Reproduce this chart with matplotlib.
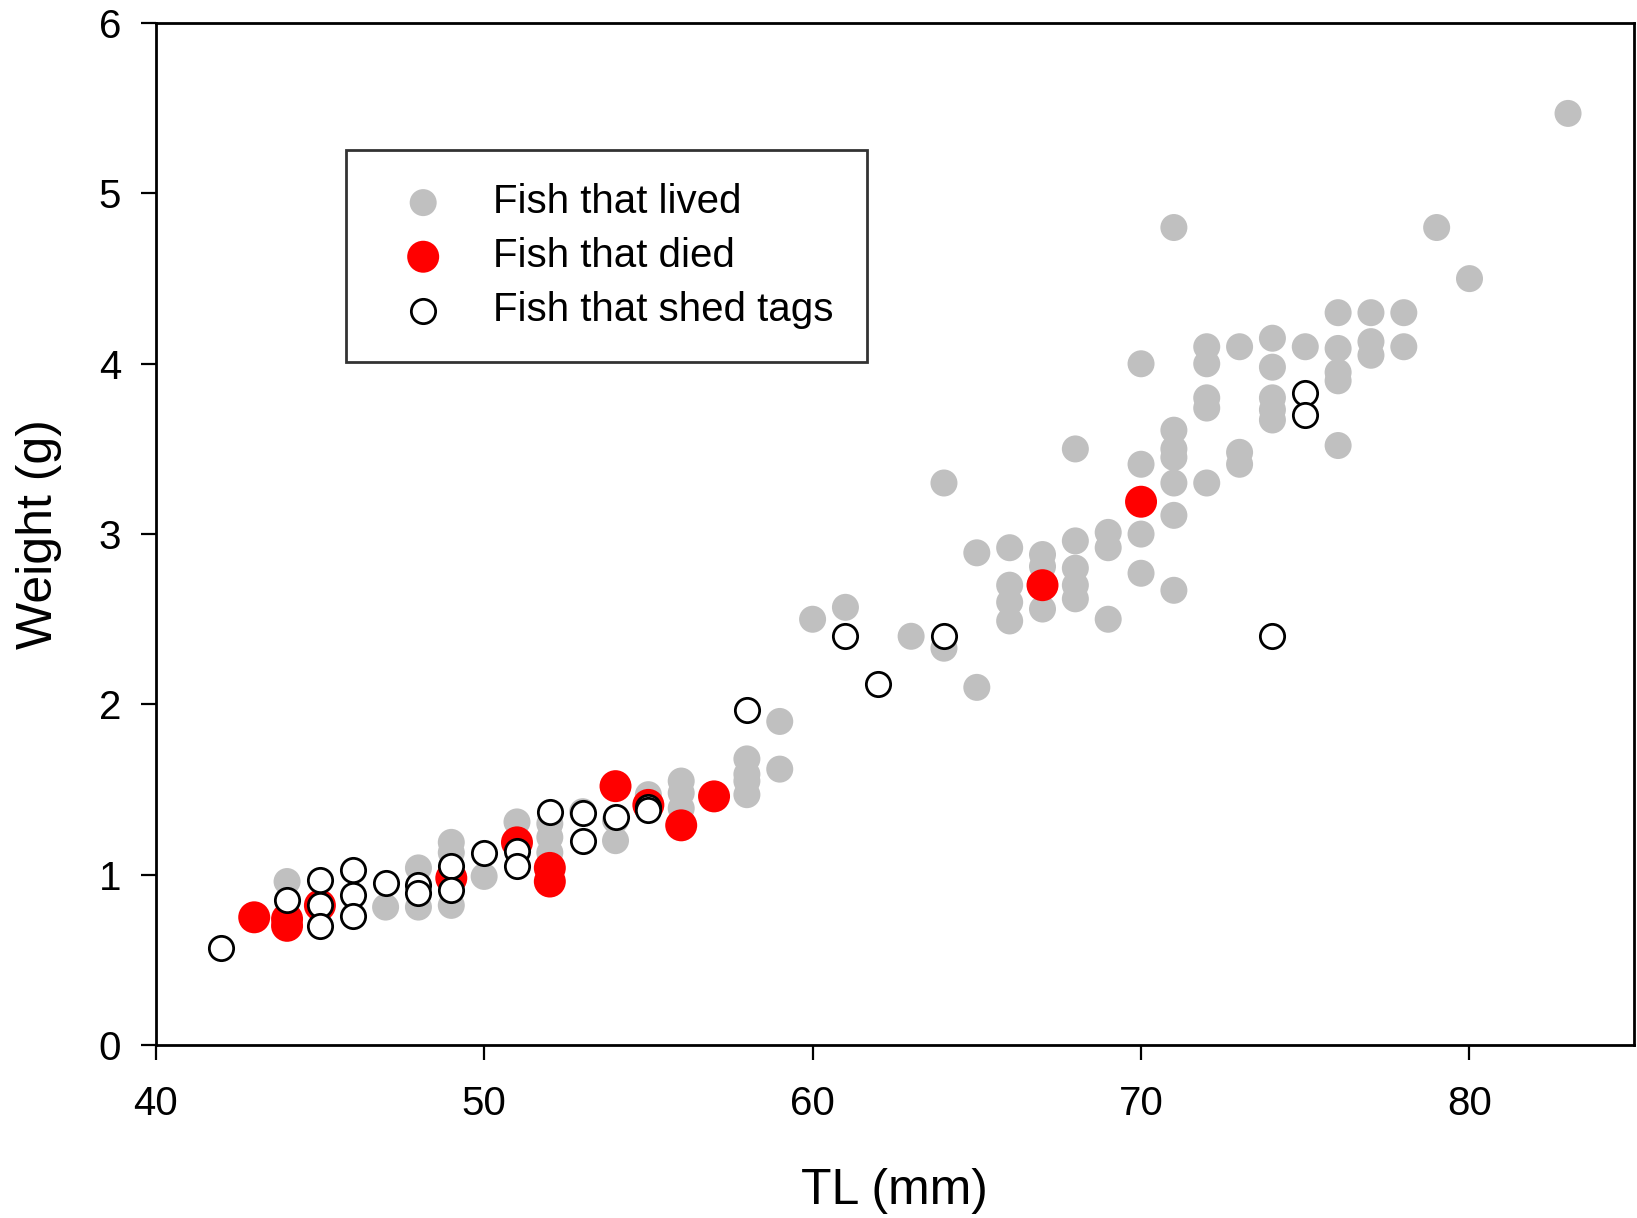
import matplotlib
matplotlib.use("Agg")
import matplotlib.pyplot as plt

plt.rcParams['font.family'] = ['Liberation Sans', 'DejaVu Sans']

# Fish that lived
lived_tl = [44, 47, 48, 48, 49, 49, 49, 50, 51, 52, 52, 52, 53, 54, 54, 55,
            56, 56, 56, 58, 58, 58, 58, 59, 59, 60, 61, 63, 64, 64, 65, 65,
            66, 66, 66, 66, 67, 67, 67, 68, 68, 68, 68, 68, 69, 69, 69,
            70, 70, 70, 70, 71, 71, 71, 71, 71, 71, 71, 72, 72, 72, 72, 72,
            73, 73, 73, 74, 74, 74, 74, 74, 75, 76, 76, 76, 76, 76,
            77, 77, 77, 78, 78, 79, 80, 83]
lived_wt = [0.96, 0.81, 1.04, 0.81, 1.19, 1.13, 0.82, 0.99, 1.31, 1.30, 1.22, 1.13, 1.37, 1.32, 1.20, 1.47,
            1.55, 1.48, 1.39, 1.68, 1.59, 1.55, 1.47, 1.90, 1.62, 2.50, 2.57, 2.40, 2.33, 3.30, 2.89, 2.10,
            2.92, 2.70, 2.60, 2.49, 2.88, 2.81, 2.56, 3.50, 2.96, 2.80, 2.70, 2.62, 3.01, 2.92, 2.50,
            4.00, 3.41, 3.00, 2.77, 4.80, 3.61, 3.50, 3.45, 3.30, 3.11, 2.67, 4.10, 4.00, 3.80, 3.74, 3.30,
            4.10, 3.48, 3.41, 4.15, 3.98, 3.80, 3.73, 3.67, 4.10, 4.30, 4.09, 3.95, 3.90, 3.52,
            4.30, 4.13, 4.05, 4.30, 4.10, 4.80, 4.50, 5.47]

# Fish that died
died_tl = [43, 44, 44, 45, 49, 51, 52, 52, 54, 55, 56, 57, 67, 70]
died_wt = [0.75, 0.74, 0.70, 0.82, 0.98, 1.19, 1.04, 0.96, 1.52, 1.41, 1.29, 1.46, 2.70, 3.19]

# Fish that shed tags
shed_tl = [42, 44, 45, 45, 45, 46, 46, 46, 47, 48, 48, 49, 49, 50, 51, 51,
           52, 53, 53, 54, 55, 55, 58, 61, 62, 64, 74, 75, 75]
shed_wt = [0.57, 0.85, 0.97, 0.82, 0.70, 1.03, 0.88, 0.76, 0.95, 0.94, 0.89, 1.05, 0.91, 1.13, 1.14, 1.05,
           1.37, 1.36, 1.20, 1.34, 1.40, 1.38, 1.97, 2.40, 2.12, 2.40, 2.40, 3.83, 3.70]

x_ticks = [40, 50, 60, 70, 80]
y_ticks = [0, 1, 2, 3, 4, 5, 6]

fig = plt.figure(figsize=(16.37, 12.18), dpi=100)
ax = fig.add_axes([0.0951, 0.142, 0.9029, 0.839])

ax.scatter(lived_tl, lived_wt, s=378, c='#C0C0C0', edgecolors='none', label='Fish that lived', zorder=2)
ax.scatter(died_tl, died_wt, s=530, c='#FF0000', edgecolors='none', label='Fish that died', zorder=3)
ax.scatter(shed_tl, shed_wt, s=306, facecolors='white', edgecolors='black', linewidths=2.0,
           label='Fish that shed tags', zorder=4)

ax.set_xlim(40, 85)
ax.set_ylim(0, 6)
ax.set_xticks(x_ticks)
ax.set_yticks(y_ticks)
ax.tick_params(direction='out', length=11, width=1.6, labelsize=29)
ax.tick_params(axis='x', pad=18)
ax.tick_params(axis='y', pad=14)
for sp in ax.spines.values():
    sp.set_linewidth(2.0)

ax.set_xlabel('TL (mm)', fontsize=36, labelpad=32)
ax.set_ylabel('Weight (g)', fontsize=36, labelpad=26)

leg = ax.legend(loc='upper left', bbox_to_anchor=(0.1288, 0.8757), borderaxespad=0,
                fontsize=29, frameon=True, fancybox=False, edgecolor='black',
                handletextpad=0.64, labelspacing=0.40, borderpad=0.82, handlelength=2.19,
                scatterpoints=1)
leg.get_frame().set_linewidth(2.0)

fig.savefig('out.png', dpi=100)
